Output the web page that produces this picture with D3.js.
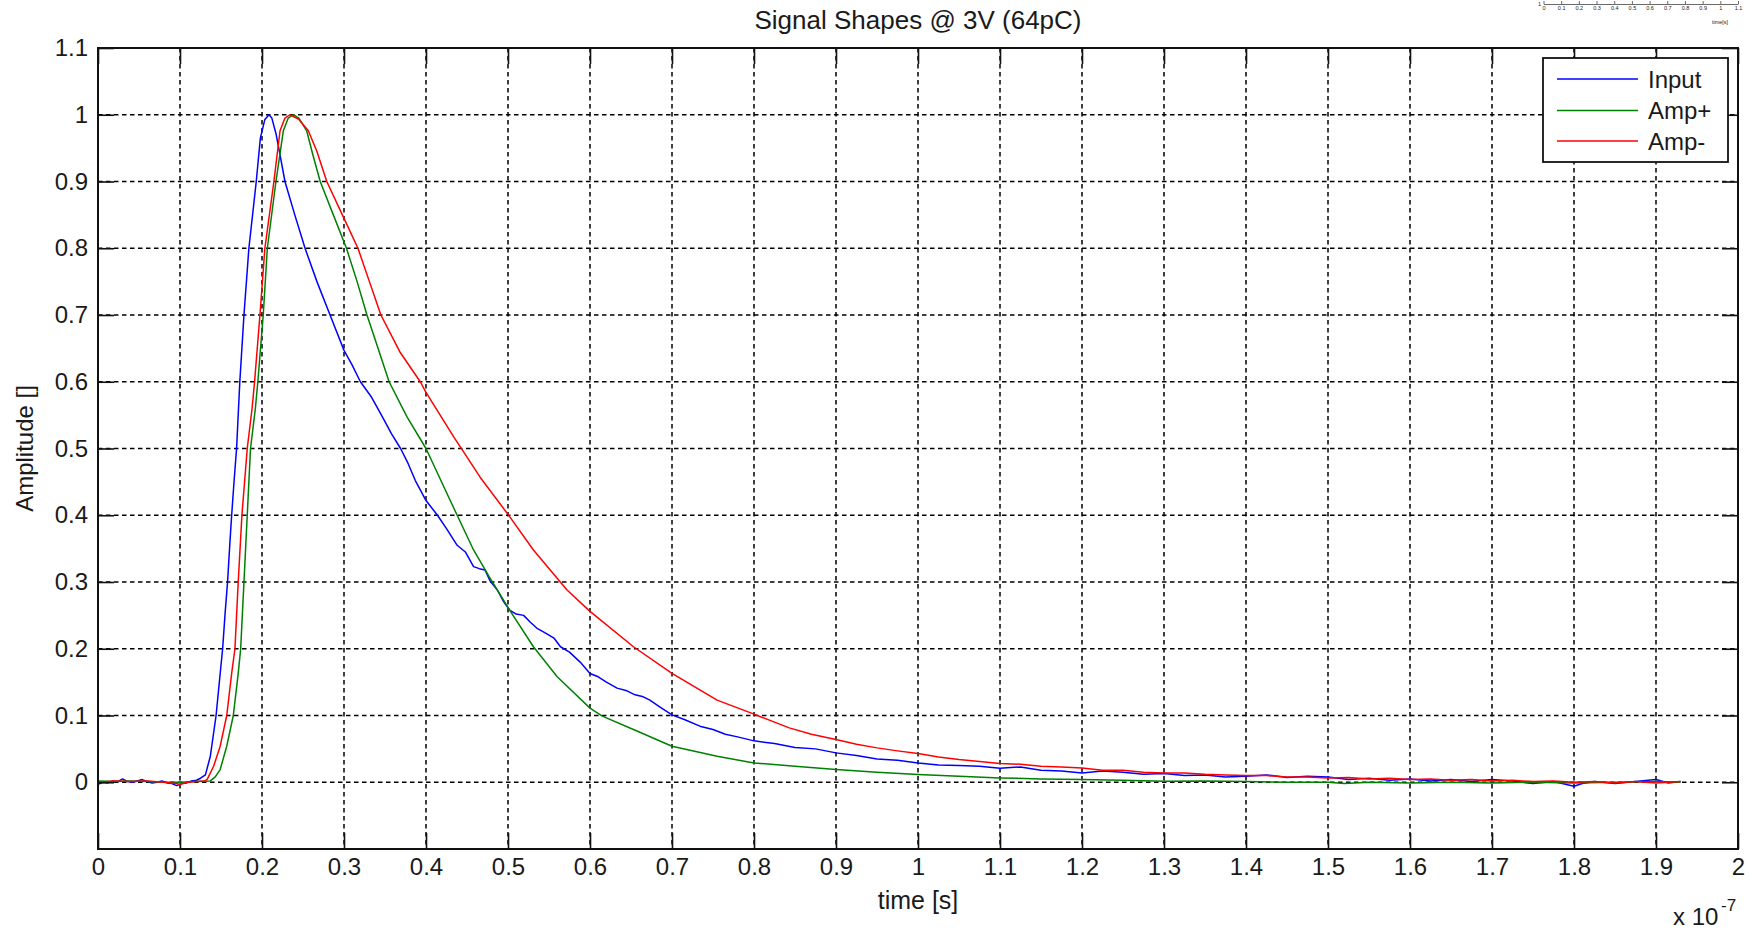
<!DOCTYPE html>
<html>
<head>
<meta charset="utf-8">
<script src="https://cdn.jsdelivr.net/npm/d3@7"></script>
<style>
  html, body { margin: 0; padding: 0; background: #fff; }
  svg { display: block; }
  text { font-family: "Liberation Sans", Arial, Helvetica, sans-serif; fill: #1a1a1a; }
</style>
</head>
<body>
<svg id="chart" width="1750" height="930"></svg>
<script>
// ---------------- DATA (time in units of 1e-7 s) ----------------
const xTickValues = [0,0.1,0.2,0.3,0.4,0.5,0.6,0.7,0.8,0.9,1,1.1,1.2,1.3,1.4,1.5,1.6,1.7,1.8,1.9,2];
const yTickValues = [0,0.1,0.2,0.3,0.4,0.5,0.6,0.7,0.8,0.9,1,1.1];
const seriesNames = ["Input", "Amp+", "Amp-"];
const miniTickValues = [0,0.1,0.2,0.3,0.4,0.5,0.6,0.7,0.8,0.9,1,1.1];

const inputTime = [0,0.006,0.012,0.018,0.024,0.03,0.036,0.042,0.048,0.054,0.06,0.066,0.072,0.078,0.084,0.09,0.096,0.102,0.108,0.114,0.12,
  0.125,0.131,0.137,0.144,0.149,0.152,0.155,0.158,0.161,0.163,0.166,0.169,0.171,0.173,0.178,0.184,0.193,0.198,0.2035,0.2085,0.212,0.217,0.222,0.228,0.24,0.2525,0.267,0.283,
  0.3,0.31,0.32,0.333,0.347,0.358,0.369,0.378,0.387,0.4,0.414,0.425,0.438,0.448,0.458,0.465,0.472,0.478,0.487,0.495,
  0.502,0.51,0.519,0.527,0.535,0.548,0.556,0.564,0.575,0.588,0.6,0.61,0.62,0.633,0.645,0.655,0.665,0.673,0.685,0.7,0.715,0.734,0.75,0.765,0.78,
  0.8,0.825,0.85,0.875,0.9,0.925,0.95,0.975,1.0,1.025,1.05,1.075,1.1,1.125,1.15,1.175,1.2,1.225,1.25,1.275,1.3,1.325,1.35,1.375,1.4,1.425,1.45,1.475,1.5,1.525,1.55,1.575,1.6,1.625,1.65,1.675,1.7,1.725,1.75,1.775,1.8,1.81,1.825,1.85,1.875,1.9,1.915,1.93];
const inputAmp = [-0.003,0.000,-0.001,0.002,0.001,0.005,0.001,0.000,0.002,0.004,0.001,-0.001,0.000,0.002,-0.001,-0.002,-0.005,-0.002,-0.001,0.002,0.003,
  0.006,0.011,0.039,0.1,0.163,0.2,0.253,0.3,0.362,0.4,0.452,0.5,0.551,0.601,0.7,0.8,0.9,0.965,0.993,1.0,0.995,0.972,0.94,0.9,0.85,0.8,0.75,0.7,
  0.647,0.625,0.6,0.578,0.547,0.522,0.5,0.478,0.452,0.422,0.4,0.38,0.355,0.345,0.323,0.32,0.318,0.302,0.288,0.27,
  0.258,0.252,0.25,0.24,0.231,0.222,0.216,0.203,0.195,0.18,0.163,0.158,0.15,0.141,0.137,0.131,0.128,0.123,0.113,0.101,0.094,0.084,0.079,0.072,0.068,
  0.062,0.058,0.052,0.05,0.044,0.040,0.035,0.033,0.029,0.026,0.025,0.024,0.021,0.023,0.018,0.017,0.014,0.017,0.015,0.012,0.013,0.010,0.011,0.008,0.009,0.011,0.007,0.009,0.008,0.004,0.006,0.003,0.005,0.002,0.004,0.001,0.004,0.002,-0.002,0.001,-0.006,-0.002,0.001,-0.002,0.001,0.004,-0.001,0.001];

const ampPlusTime = [0,0.02,0.04,0.06,0.08,0.1,0.12,0.137,
  0.143,0.149,0.157,0.165,0.171,0.174,0.178,0.182,0.186,0.192,0.195,0.2015,0.2065,0.217,0.226,0.232,0.238,0.245,0.2545,0.262,0.271,0.287,0.303,0.316,0.328,
  0.341,0.355,0.377,0.4,0.422,0.438,0.458,0.477,0.502,0.531,0.56,0.6,0.615,0.653,0.7,0.755,0.8,0.85,0.9,0.95,1.0,1.05,1.1,1.15,1.2,1.25,1.3,1.35,1.4,1.45,1.5,1.52,1.55,1.6,1.65,1.7,1.75,1.8,1.85,1.9,1.93];
const ampPlusAmp = [0.002,0.001,0.002,0.001,0.000,0.000,0.001,0.002,
  0.008,0.019,0.054,0.1,0.163,0.2,0.3,0.4,0.5,0.561,0.601,0.7,0.8,0.9,0.976,0.995,1.0,0.995,0.976,0.94,0.9,0.85,0.8,0.75,0.7,
  0.652,0.6,0.547,0.5,0.442,0.4,0.348,0.308,0.258,0.203,0.158,0.111,0.099,0.079,0.054,0.039,0.029,0.024,0.019,0.015,0.0115,0.009,0.0065,0.005,0.004,0.003,0.0015,0.002,0.001,0.000,0.000,-0.002,0.000,-0.001,0.000,-0.001,0.000,-0.001,0.000,0.001,0.000];

const ampMinusTime = [0,0.02,0.04,0.06,0.08,0.095,0.1,0.11,0.12,0.13,
  0.133,0.141,0.149,0.157,0.163,0.167,0.171,0.1755,0.182,0.188,0.191,0.1975,0.2035,0.2145,0.222,0.228,0.234,0.245,0.2565,0.267,0.279,0.298,0.317,0.331,0.345,
  0.368,0.393,0.4,0.434,0.466,0.502,0.531,0.572,0.6,0.653,0.7,0.755,0.8,0.825,0.843,0.87,0.9,0.925,0.95,0.975,
  1.0,1.025,1.05,1.075,1.1,1.125,1.15,1.175,1.2,1.225,1.25,1.275,1.3,1.325,1.35,1.375,1.4,1.425,1.45,1.475,1.5,1.525,1.55,1.575,1.6,1.625,1.65,1.675,1.7,1.725,1.75,1.775,1.8,1.825,1.85,1.875,1.9,1.93];
const ampMinusAmp = [0.000,0.002,0.001,0.002,0.000,-0.002,-0.003,0.000,0.001,0.002,
  0.004,0.024,0.054,0.1,0.163,0.2,0.3,0.4,0.5,0.561,0.601,0.7,0.8,0.9,0.976,0.995,1.0,0.993,0.976,0.945,0.9,0.85,0.8,0.75,0.7,
  0.645,0.6,0.584,0.517,0.457,0.398,0.348,0.288,0.256,0.203,0.163,0.123,0.102,0.09,0.0815,0.072,0.064,0.057,0.0515,0.047,
  0.043,0.038,0.034,0.031,0.028,0.027,0.024,0.023,0.0215,0.018,0.018,0.015,0.014,0.014,0.012,0.011,0.010,0.010,0.008,0.008,0.0065,0.007,0.005,0.006,0.004,0.005,0.003,0.004,0.002,0.003,0.001,0.002,0.000,0.001,-0.001,0.001,-0.001,0.001];

// ---------------- STYLES / LAYOUT ----------------
const seriesColors = ["#0000ff", "#008000", "#ff0000"];
const plot = { left: 98, right: 1738, top: 48, bottom: 849 };
const tickLen = 16;
const fontSize = 24;

const svg = d3.select("#chart");
const x = d3.scaleLinear().domain([0, 2]).range([plot.left, plot.right]);
const y = d3.scaleLinear().domain([-0.1, 1.1]).range([plot.bottom, plot.top]);
const fmt = d => (Math.round(d * 10) / 10).toString();

// white plot background
svg.append("rect").attr("x", plot.left).attr("y", plot.top)
  .attr("width", plot.right - plot.left).attr("height", plot.bottom - plot.top).attr("fill", "#fff");

// grid
const grid = svg.append("g").attr("stroke", "#000").attr("stroke-width", 1.5).attr("stroke-dasharray", "4.5,3.5");
grid.selectAll("line.v").data(xTickValues.filter(d => d > 0 && d < 2)).join("line")
  .attr("x1", d => x(d)).attr("x2", d => x(d))
  .attr("y1", plot.top).attr("y2", plot.bottom);
grid.selectAll("line.h").data(yTickValues.filter(d => d < 1.1)).join("line")
  .attr("y1", d => y(d)).attr("y2", d => y(d))
  .attr("x1", plot.left).attr("x2", plot.right);

// series
const series = [
  { name: seriesNames[0], t: inputTime, a: inputAmp, color: seriesColors[0] },
  { name: seriesNames[1], t: ampPlusTime, a: ampPlusAmp, color: seriesColors[1] },
  { name: seriesNames[2], t: ampMinusTime, a: ampMinusAmp, color: seriesColors[2] }
];
const line = d3.line().x(d => x(d[0])).y(d => y(d[1]));
series.forEach(s => {
  svg.append("path").datum(s.t.map((t, i) => [t, s.a[i]]))
    .attr("fill", "none").attr("stroke", s.color).attr("stroke-width", 1.5)
    .attr("stroke-linejoin", "round").attr("d", line);
});

// axes (MATLAB-style inward ticks on all four sides)
const axisStyle = g => {
  g.select(".domain").remove();
  g.selectAll(".tick line").attr("stroke", "#111").attr("stroke-width", 1.6);
  g.selectAll(".tick text").style("font-size", fontSize + "px").attr("fill", "#1a1a1a");
};
svg.append("g").attr("transform", `translate(0,${plot.bottom})`)
  .call(d3.axisBottom(x).tickValues(xTickValues).tickFormat(fmt).tickSizeInner(-tickLen).tickSizeOuter(0).tickPadding(9))
  .call(axisStyle);
svg.append("g").attr("transform", `translate(0,${plot.top})`)
  .call(d3.axisTop(x).tickValues(xTickValues).tickFormat("").tickSizeInner(-tickLen).tickSizeOuter(0))
  .call(axisStyle);
svg.append("g").attr("transform", `translate(${plot.left},0)`)
  .call(d3.axisLeft(y).tickValues(yTickValues).tickFormat(fmt).tickSizeInner(-tickLen).tickSizeOuter(0).tickPadding(10))
  .call(axisStyle);
svg.append("g").attr("transform", `translate(${plot.right},0)`)
  .call(d3.axisRight(y).tickValues(yTickValues).tickFormat("").tickSizeInner(-tickLen).tickSizeOuter(0))
  .call(axisStyle);

// box
svg.append("rect").attr("x", plot.left).attr("y", plot.top)
  .attr("width", plot.right - plot.left).attr("height", plot.bottom - plot.top)
  .attr("fill", "none").attr("stroke", "#111").attr("stroke-width", 2);

// title and labels
svg.append("text").attr("x", (plot.left + plot.right) / 2).attr("y", 29).attr("text-anchor", "middle")
  .style("font-size", "26px").attr("fill", "#222").text("Signal Shapes @ 3V (64pC)");
svg.append("text").attr("x", (plot.left + plot.right) / 2).attr("y", 909).attr("text-anchor", "middle")
  .style("font-size", "25px").text("time [s]");
svg.append("text").attr("transform", `translate(33,${(plot.top + plot.bottom) / 2}) rotate(-90)`)
  .attr("text-anchor", "middle").style("font-size", fontSize + "px").text("Amplitude []");
svg.append("text").attr("x", 1673).attr("y", 925).style("font-size", fontSize + "px").text("x 10");
svg.append("text").attr("x", 1721).attr("y", 911).style("font-size", "17px").text("-7");

// legend
const lg = { x: 1543, y: 58, w: 185, h: 104 };
const legend = svg.append("g");
legend.append("rect").attr("x", lg.x).attr("y", lg.y).attr("width", lg.w).attr("height", lg.h)
  .attr("fill", "#fff").attr("stroke", "#111").attr("stroke-width", 1.8);
const legendRows = [79, 110.5, 141];
series.forEach((s, i) => {
  legend.append("line").attr("x1", 1557).attr("x2", 1638)
    .attr("y1", legendRows[i]).attr("y2", legendRows[i])
    .attr("stroke", s.color).attr("stroke-width", 1.6);
  legend.append("text").attr("x", 1648).attr("y", legendRows[i]).attr("dy", "0.36em")
    .style("font-size", fontSize + "px").text(s.name);
});

// tiny stray axis fragment at the top-right corner
const mx = d3.scaleLinear().domain([0, 1.1]).range([1543.5, 1738]);
const mini = svg.append("g").attr("transform", "translate(0,4)");
mini.call(d3.axisBottom(mx).tickValues(miniTickValues).tickFormat(fmt).tickSizeInner(-3).tickSizeOuter(0).tickPadding(2))
  .call(g => {
    g.select(".domain").attr("stroke", "#444").attr("stroke-width", 0.8);
    g.selectAll(".tick line").attr("stroke", "#444").attr("stroke-width", 0.8);
    g.selectAll(".tick text").style("font-size", "5.5px").attr("fill", "#444");
  });
svg.append("text").attr("x", 1541).attr("y", 6).attr("text-anchor", "end").style("font-size", "5.5px").attr("fill", "#444").text("1");
svg.append("text").attr("x", 1720).attr("y", 24).attr("text-anchor", "middle").style("font-size", "5.5px").attr("fill", "#444").text("time[s]");
</script>
</body>
</html>
